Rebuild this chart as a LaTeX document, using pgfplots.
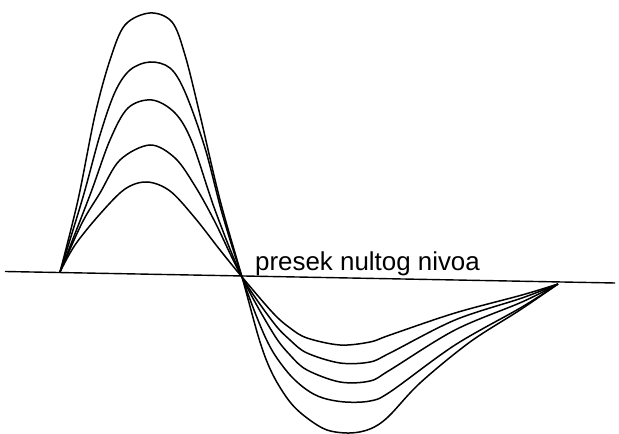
\documentclass[border=0pt]{standalone}
\usepackage{pgfplots}
\pgfplotsset{compat=1.18}
\usepackage{fontspec}
\setmainfont{Liberation Sans}

% Oscillation profiles: five curves sharing the start, the zero crossing and the end.
% Coordinates are in drawing units (x to the right, y upward).
\begin{document}
\begin{tikzpicture}
\begin{axis}[
  scale only axis,
  width=619bp, height=433bp,
  xmin=0, xmax=619, ymin=-433, ymax=0,
  hide axis, clip=false,
  cycle list={{black, solid}},
  every axis plot/.append style={black, line width=1.5bp, smooth, tension=0.55, no markers},
]
\path (rel axis cs:0,0) rectangle (rel axis cs:1,1);

% zero level
\addplot[black, sharp plot, line width=1.4bp] coordinates {(5,-271.5) (615,-283)};

% curve A (largest amplitude)
\addplot[black] coordinates {
 (60,-272) (78,-200) (95,-115) (110,-60) (125,-25) (150,-13) (172,-22) (185,-55)
 (200,-115) (220,-200) (242,-277)
 (260,-342) (273,-375) (290,-402) (307,-418) (327,-430) (350,-433) (370,-429)
 (388,-417) (420,-383) (470,-342) (520,-310) (558,-284)};

% curve B
\addplot[black] coordinates {
 (60,-272) (83,-197) (100,-135) (115,-92) (130,-70) (150,-62) (170,-68) (185,-92)
 (205,-148) (222,-213) (242,-277)
 (260,-325) (273,-352) (290,-375) (307,-390) (323,-398) (345,-402) (370,-401)
 (390,-392) (455,-345) (522,-307) (558,-284)};

% curve C
\addplot[black] coordinates {
 (60,-272) (90,-195) (110,-140) (128,-108) (152,-100) (175,-113) (192,-142)
 (215,-210) (242,-277)
 (273,-333) (290,-355) (307,-370) (340,-382) (370,-381) (390,-370)
 (455,-330) (522,-302) (558,-284)};

% curve D
\addplot[black] coordinates {
 (60,-272) (82,-223) (100,-193) (120,-160) (150,-145) (175,-158) (195,-186)
 (215,-222) (242,-277)
 (273,-322) (290,-340) (307,-353) (340,-363) (370,-362) (390,-353)
 (455,-320) (522,-298) (558,-284)};

% curve E (smallest amplitude)
\addplot[black] coordinates {
 (60,-272) (75,-245) (100,-214) (125,-189) (147,-182) (170,-191) (195,-218)
 (220,-250) (242,-277)
 (273,-313) (290,-328) (307,-338) (340,-345) (370,-342) (390,-335)
 (455,-313) (522,-295) (558,-284)};

\node[anchor=base west, inner sep=0pt, font=\fontsize{26}{31}\selectfont]
  at (axis cs:255,-271) {presek nultog nivoa};
\end{axis}
\end{tikzpicture}
\end{document}
